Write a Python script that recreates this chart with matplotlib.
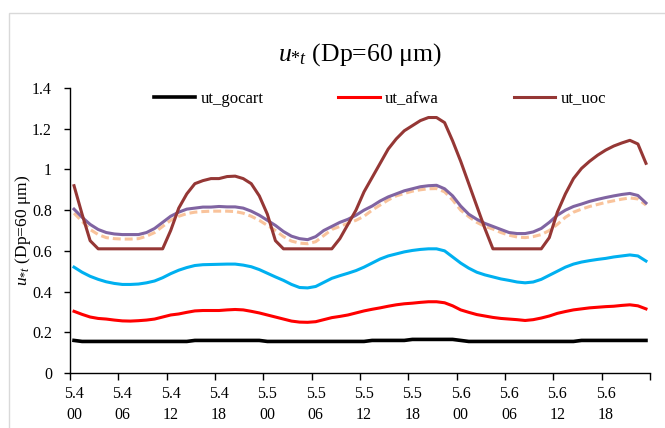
import numpy as np
import matplotlib
matplotlib.use("Agg")
import matplotlib.pyplot as plt
from matplotlib.patches import Rectangle

plt.rcParams['font.family'] = ['Liberation Serif', 'DejaVu Serif']
plt.rcParams['mathtext.fontset'] = 'custom'
plt.rcParams['mathtext.rm'] = 'Liberation Serif'
plt.rcParams['mathtext.it'] = 'Liberation Serif:italic'

days = ['5.4', '5.4', '5.4', '5.4', '5.5', '5.5', '5.5', '5.5', '5.6', '5.6', '5.6', '5.6']
hours = ['00', '06', '12', '18', '00', '06', '12', '18', '00', '06', '12', '18']

ut_gocart = [0.16] + [0.155] * 14 + [0.16] * 9 + [0.155] * 13 + [0.16] * 5 + \
            [0.165] * 6 + [0.16] + [0.155] * 14 + [0.16] * 9

ut_afwa = [0.303, 0.288, 0.275, 0.268, 0.265, 0.26, 0.256, 0.255, 0.257, 0.26,
           0.265, 0.275, 0.285, 0.29, 0.298, 0.305, 0.307, 0.307, 0.307, 0.31,
           0.312, 0.31, 0.303, 0.295, 0.285, 0.275, 0.265, 0.255, 0.25, 0.249,
           0.252, 0.262, 0.272, 0.278, 0.285, 0.295, 0.305, 0.313, 0.32, 0.328,
           0.335, 0.34, 0.343, 0.347, 0.35, 0.35, 0.345, 0.33, 0.31, 0.298,
           0.287, 0.28, 0.273, 0.268, 0.265, 0.262, 0.258, 0.262, 0.27, 0.28,
           0.293, 0.302, 0.31, 0.315, 0.32, 0.323, 0.326, 0.328, 0.332, 0.335,
           0.33, 0.315]

ut_uoc = [0.92, 0.78, 0.65, 0.61, 0.61, 0.61, 0.61, 0.61, 0.61, 0.61,
          0.61, 0.61, 0.70, 0.81, 0.88, 0.93, 0.945, 0.955, 0.955, 0.965,
          0.967, 0.955, 0.93, 0.87, 0.78, 0.65, 0.61, 0.61, 0.61, 0.61,
          0.61, 0.61, 0.61, 0.66, 0.73, 0.80, 0.89, 0.96, 1.03, 1.10,
          1.15, 1.19, 1.215, 1.24, 1.255, 1.255, 1.23, 1.14, 1.04, 0.93,
          0.82, 0.71, 0.61, 0.61, 0.61, 0.61, 0.61, 0.61, 0.61, 0.665,
          0.79, 0.88, 0.955, 1.005, 1.04, 1.07, 1.095, 1.115, 1.13, 1.143,
          1.125, 1.03]

ut_cyan = [0.52, 0.495, 0.475, 0.46, 0.448, 0.44, 0.435, 0.435, 0.437, 0.443,
           0.452, 0.468, 0.488, 0.505, 0.518, 0.528, 0.532, 0.533, 0.534, 0.535,
           0.535, 0.53, 0.522, 0.508, 0.49, 0.472, 0.455, 0.435, 0.42, 0.418,
           0.425, 0.445, 0.465, 0.478, 0.49, 0.503, 0.52, 0.54, 0.56, 0.575,
           0.585, 0.595, 0.602, 0.607, 0.61, 0.61, 0.60, 0.57, 0.54, 0.515,
           0.495, 0.482, 0.472, 0.462, 0.455, 0.447, 0.443, 0.447, 0.46, 0.48,
           0.50, 0.52, 0.535, 0.545, 0.552, 0.558, 0.563, 0.57, 0.575, 0.58,
           0.575, 0.55]

ut_purple = [0.805, 0.765, 0.73, 0.705, 0.69, 0.683, 0.68, 0.68, 0.68, 0.69,
             0.71, 0.74, 0.77, 0.79, 0.805, 0.81, 0.815, 0.815, 0.818, 0.816,
             0.816, 0.81, 0.795, 0.775, 0.75, 0.725, 0.695, 0.672, 0.66, 0.655,
             0.67, 0.70, 0.72, 0.74, 0.755, 0.775, 0.80, 0.82, 0.845, 0.865,
             0.88, 0.895, 0.905, 0.915, 0.92, 0.922, 0.905, 0.87, 0.82, 0.78,
             0.755, 0.735, 0.72, 0.705, 0.69, 0.685, 0.685, 0.693, 0.71, 0.74,
             0.775, 0.80, 0.818, 0.83, 0.843, 0.853, 0.862, 0.87, 0.877, 0.882,
             0.872, 0.835]

ut_orange = [0.785, 0.745, 0.705, 0.68, 0.665, 0.66, 0.658, 0.658, 0.66, 0.672,
             0.69, 0.72, 0.75, 0.77, 0.783, 0.79, 0.793, 0.795, 0.795, 0.795,
             0.793, 0.785, 0.77, 0.75, 0.725, 0.70, 0.67, 0.648, 0.638, 0.635,
             0.645, 0.675, 0.705, 0.72, 0.735, 0.75, 0.77, 0.80, 0.825, 0.85,
             0.87, 0.882, 0.893, 0.90, 0.905, 0.906, 0.89, 0.85, 0.80, 0.768,
             0.74, 0.72, 0.707, 0.69, 0.677, 0.668, 0.665, 0.67, 0.68, 0.70,
             0.73, 0.765, 0.79, 0.805, 0.818, 0.828, 0.838, 0.846, 0.854, 0.86,
             0.855, 0.825]

W, H = 665, 428
fig = plt.figure(figsize=(W / 100, H / 100), dpi=100)
fig.patches.append(Rectangle((9 / W, -0.1), 2, (H - 12.5) / H + 0.1,
                             transform=fig.transFigure, fill=False,
                             edgecolor='#D9D9D9', lw=1.0))

ax = fig.add_axes([70 / W, (H - 373) / H, 580 / W, 285 / H])
n = len(ut_uoc)
x = np.arange(n)
lw = 2.2
ax.plot(x, ut_orange, color='#F9C39B', lw=lw, dashes=(2.6, 1.3))
ax.plot(x, ut_purple, color='#8064A2', lw=lw)
ax.plot(x, ut_cyan, color='#00B0F0', lw=lw)
l1, = ax.plot(x, ut_gocart, color='black', lw=2.6)
l2, = ax.plot(x, ut_afwa, color='#FF0000', lw=lw)
l3, = ax.plot(x, ut_uoc, color='#953735', lw=lw)

ax.set_xlim(-0.5, n - 0.5)
ax.set_ylim(0, 1.4)
ax.set_yticks(np.arange(0, 1.41, 0.2))
ax.set_yticklabels(['0', '0.2', '0.4', '0.6', '0.8', '1', '1.2', '1.4'])

# tick marks at category boundaries every 6 hours, labels centred on categories
ax.set_xticks(np.arange(0, n + 1, 6) - 0.5)
ax.set_xticklabels([])
ax.set_xticks(np.arange(0, n, 6), minor=True)
ax.set_xticklabels([f'{d}\n{h}' for d, h in zip(days, hours)], minor=True,
                   linespacing=1.45)
ax.tick_params(axis='x', which='minor', length=0, labelsize=11.5, pad=9)
ax.tick_params(axis='x', which='major', length=5, width=1.0, color='black')
ax.tick_params(axis='y', length=4, width=1.0, color='black', labelsize=11.5, pad=9)
for s in ['top', 'right']:
    ax.spines[s].set_visible(False)
for s in ['left', 'bottom']:
    ax.spines[s].set_linewidth(1.0)

ax.set_title(r'$u_{*t}$ (Dp=60 μm)', fontsize=18.5, pad=20)
ax.set_ylabel(r'$u_{*t}$ (Dp=60 μm)', fontsize=12.5)
ax.yaxis.set_label_coords(-0.064, 0.5)

ax.legend([l1, l2, l3], ['ut_gocart', 'ut_afwa', 'ut_uoc'], ncol=3, frameon=False,
          loc='center', bbox_to_anchor=(0.534, 0.961), fontsize=12,
          handlelength=2.5, handletextpad=0.3, columnspacing=4.5)

fig.savefig('out.png', dpi=100)
